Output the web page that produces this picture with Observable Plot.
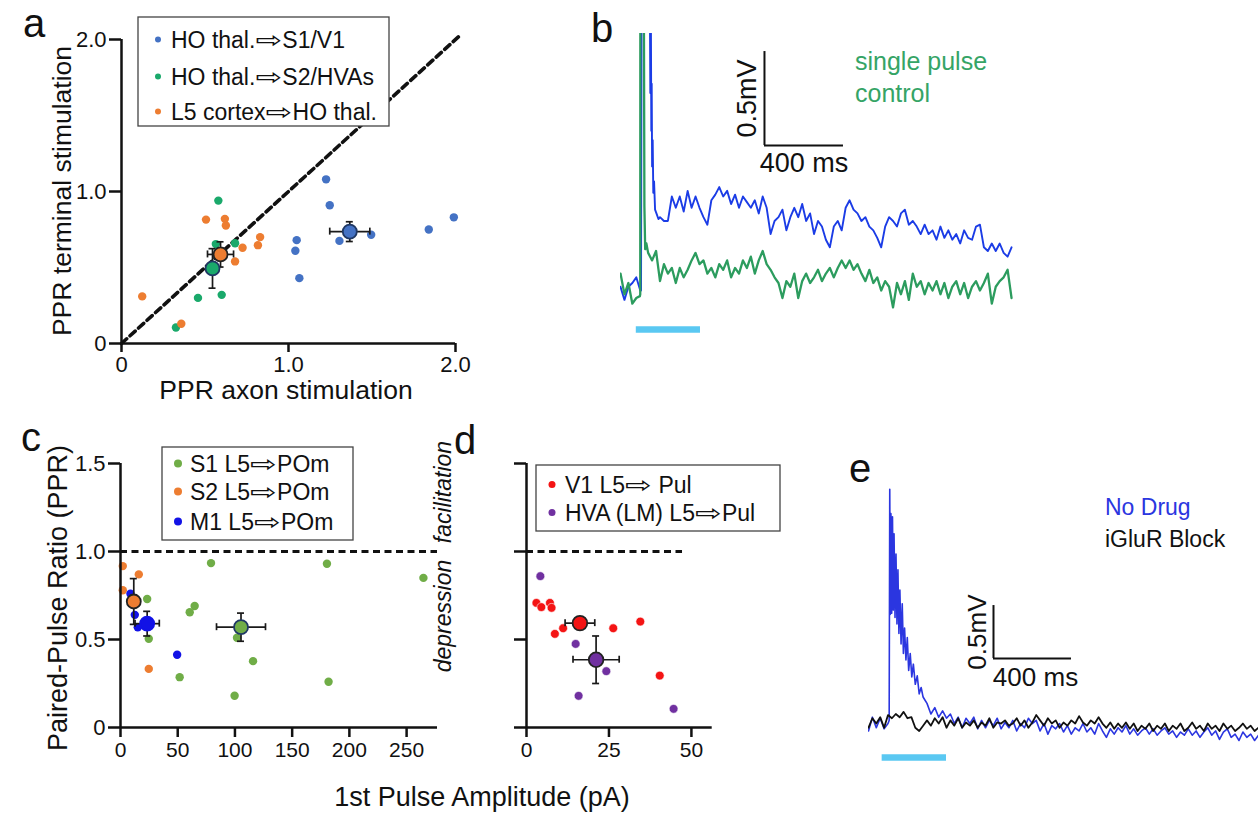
<!DOCTYPE html>
<html><head><meta charset="utf-8">
<script src="https://cdn.jsdelivr.net/npm/d3@7"></script>
<script src="https://cdn.jsdelivr.net/npm/@observablehq/plot@0.6"></script>
<style>
body{margin:0;background:#fff;}
#fig{position:relative;width:1258px;height:814px;overflow:hidden;background:#fff;}
#fig svg{position:absolute;}
</style></head>
<body><div id="fig"></div>
<script>
const FONT = "Arial, 'Liberation Sans', Helvetica, sans-serif";

// ---------- Panel a data ----------
const aGroups = ["HO thal.⇨S1/V1", "HO thal.⇨S2/HVAs", "L5 cortex⇨HO thal."];
const aBlueX = [1.225, 1.247, 1.99, 1.84, 1.495, 1.305, 1.049, 1.041, 1.065];
const aBlueY = [1.08, 0.91, 0.83, 0.75, 0.715, 0.675, 0.68, 0.61, 0.43];
const aGreenX = [0.58, 0.565, 0.68, 0.458, 0.60, 0.326];
const aGreenY = [0.94, 0.654, 0.66, 0.30, 0.32, 0.105];
const aOrangeX = [0.506, 0.619, 0.625, 0.83, 0.817, 0.725, 0.68, 0.124, 0.358];
const aOrangeY = [0.815, 0.82, 0.776, 0.70, 0.647, 0.63, 0.54, 0.31, 0.13];
const aMeanX = [1.367, 0.545, 0.593];
const aMeanY = [0.736, 0.494, 0.586];
const aErrX = [0.12, 0, 0.078];
const aErrY = [0.065, 0.13, 0.083];
const aTicks = [0, 1, 2];
const aDiag = [0, 2.03];

// ---------- Panel b data (mV vs ms) ----------
const bBlueV = [
  0.02,-0.05,0.02,0.04,0.07,0.0,null,null,null,null,
  0.39,0.37,0.37,0.50,0.44,0.50,0.42,0.53,0.44,0.50,
  0.44,0.39,0.35,0.48,0.51,0.55,0.50,0.53,0.46,0.51,
  0.44,0.50,0.47,0.44,0.48,0.41,0.50,0.44,0.30,0.37,
  0.39,0.43,0.32,0.39,0.44,0.39,0.46,0.37,0.41,0.30,
  0.37,0.34,0.27,0.23,0.34,0.37,0.32,0.44,0.48,0.43,
  0.41,0.37,0.39,0.34,0.32,0.28,0.23,0.34,0.39,0.37,
  0.34,0.41,0.43,0.35,0.37,0.34,0.30,0.35,0.30,0.32,
  0.27,0.34,0.28,0.32,0.27,0.30,0.25,0.32,0.28,0.27,
  0.34,0.35,0.23,0.21,0.25,0.21,0.25,0.20,0.18,0.23];
const bBlueSpike = [[104,0.0],[107,1.7],[148,1.7],[151,1.05],[153,1.7],[156,0.85],[158,1.1],[160,0.66],[163,0.8],[166,0.52],[170,0.58],[175,0.43],[182,0.41],[192,0.38]];
const bGreenV = [
  0.09,-0.02,0.04,-0.07,-0.04,-0.02,null,0.20,0.16,0.21,
  0.05,0.14,0.09,0.12,0.04,0.12,0.07,0.11,0.16,0.20,
  0.14,0.16,0.09,0.12,0.07,0.14,0.11,0.16,0.07,0.12,
  0.09,0.16,0.12,0.18,0.09,0.16,0.21,0.14,0.11,0.07,
  0.04,-0.04,0.05,0.02,0.09,-0.04,0.05,0.09,0.04,0.07,
  0.11,0.05,0.09,0.12,0.07,0.12,0.16,0.12,0.16,0.11,
  0.14,0.09,0.05,0.11,0.04,0.07,0.0,0.05,0.02,-0.09,
  0.04,-0.02,0.05,-0.05,0.09,0.02,0.05,-0.02,0.04,0.0,
  0.05,-0.02,0.04,-0.04,0.02,0.05,-0.02,0.04,-0.04,0.02,
  0.05,0.0,0.04,0.09,-0.07,0.02,0.05,0.07,0.11,-0.04];
const bGreenSpike = [[98,-0.03],[100.5,1.7],[118,1.7],[121,0.45],[125,0.22],[131,0.25]];
const bStimT = [80, 405];
const bStimV = [-0.207];
const bScaleT = [729, 1129];
const bScaleV = [0.771, 1.271];

// ---------- Panel c data ----------
const cGroups = ["S1 L5⇨POm", "S2 L5⇨POm", "M1 L5⇨POm"];
const cS1X = [79.1, 23.3, 64.8, 60.5, 24.7, 101.8, 115.8, 51.7, 99.7, 180.4, 264.7, 181.8];
const cS1Y = [0.934, 0.73, 0.69, 0.655, 0.504, 0.51, 0.377, 0.286, 0.18, 0.93, 0.85, 0.26];
const cS2X = [2, 16, 2, 24.7];
const cS2Y = [0.917, 0.87, 0.78, 0.333];
const cM1X = [8.7, 12.5, 15.1, 49.5];
const cM1Y = [0.76, 0.64, 0.57, 0.413];
const cMeanX = [105.3, 11.6, 23.3];
const cMeanY = [0.57, 0.716, 0.59];
const cErrX = [21.4, 0, 10.6];
const cErrY = [0.08, 0.13, 0.07];
const cXTicks = [0, 50, 100, 150, 200, 250];
const cYTicks = [0, 0.5, 1, 1.5];
const cRefX = [0, 277];

// ---------- Panel d data ----------
const dGroups = ["V1 L5⇨ Pul", "HVA (LM) L5⇨Pul"];
const dRedX = [3.0, 4.5, 7.1, 7.6, 11.1, 8.6, 26.3, 34.5, 40.4];
const dRedY = [0.708, 0.684, 0.708, 0.68, 0.564, 0.532, 0.564, 0.602, 0.295];
const dPurX = [4.2, 14.9, 24.2, 15.8, 44.6];
const dPurY = [0.86, 0.475, 0.32, 0.18, 0.106];
const dMeanX = [16.2, 21.1];
const dMeanY = [0.593, 0.385];
const dErrX = [4.5, 7.0];
const dErrY = [0, 0.135];
const dXTicks = [0, 25, 50];
const dRefX = [0, 47.3];

// ---------- Panel e data ----------
const eBlueV = [
  -0.07,0.06,-0.04,0.05,-0.05,0.0,null,null,null,null,
  null,null,null,null,null,0.19,0.09,0.15,0.06,0.12,
  0.05,0.09,0.0,0.06,-0.04,0.05,0.0,0.06,-0.05,0.03,
  -0.04,0.03,-0.02,0.05,-0.05,0.01,-0.04,0.03,-0.07,0.0,
  -0.04,0.05,0.0,0.03,-0.07,0.0,-0.10,-0.02,-0.05,0.0,
  -0.08,-0.02,-0.10,-0.04,-0.07,0.0,-0.08,-0.04,-0.10,0.0,
  -0.07,-0.13,-0.05,-0.10,-0.04,-0.08,-0.02,-0.10,-0.05,-0.11,
  -0.07,-0.04,-0.10,-0.05,-0.11,-0.07,-0.04,-0.10,-0.07,-0.13,
  -0.08,-0.11,-0.05,-0.11,-0.07,-0.13,-0.08,-0.04,-0.11,-0.07,
  -0.15,-0.08,-0.05,-0.13,-0.10,-0.16,-0.08,-0.13,-0.10,-0.16,
  -0.11];
const eBlueSpike = [[106,0.03],[109,2.21],[112,1.03],[115,1.98],[119,1.04],[123,1.95],[127,1.07],[131,1.79],[136,1.0],[141,1.6],[146,0.94],[151,1.45],[156,0.85],[161,1.26],[167,0.75],[173,1.13],[179,0.66],[185,0.9],[192,0.6],[199,0.81],[206,0.5],[214,0.66],[222,0.44],[230,0.56],[240,0.37],[250,0.45],[260,0.28],[270,0.34],[280,0.25],[290,0.22]];
const eBlackV = [
  -0.04,0.05,0.0,0.06,-0.04,0.08,0.05,0.09,0.06,0.11,
  0.05,0.06,-0.04,-0.07,-0.02,0.03,-0.02,0.05,0.0,0.06,
  -0.04,0.03,-0.02,0.05,-0.04,0.01,-0.02,0.03,-0.04,0.01,
  -0.02,0.05,-0.04,0.01,0.0,0.03,-0.02,0.0,0.05,-0.02,
  0.03,-0.04,0.01,0.08,0.03,-0.02,0.05,0.0,0.03,-0.04,
  0.01,-0.02,0.03,0.0,0.07,0.01,-0.02,0.03,0.0,0.06,
  0.0,-0.04,0.01,-0.05,0.0,-0.04,0.01,-0.05,0.0,-0.07,
  -0.02,-0.05,0.0,-0.07,-0.02,-0.05,0.0,-0.07,-0.02,-0.05,
  0.0,-0.07,-0.04,0.01,-0.05,-0.02,-0.07,0.0,-0.05,-0.02,
  -0.07,0.0,-0.05,-0.02,-0.07,-0.04,0.0,-0.05,-0.02,-0.07,
  -0.04];
const eStimT = [70, 400];
const eStimV = [-0.32];
const eScaleT = [641, 1041];
const eScaleV = [0.613, 1.113];
const traceDt = 20;

// ---------- helpers ----------
const fig = document.getElementById("fig");
function place(svg, left, top) {
  svg.style.left = left + "px"; svg.style.top = top + "px";
  fig.append(svg);
}
const baseStyle = {background: "transparent", fontFamily: FONT, overflow: "visible", color: "#111"};
const pts = (xs, ys, g) => xs.map((x, i) => ({x, y: ys[i], g}));
const means = (mx, my, ex, ey) => mx.map((x, i) => ({x, y: my[i], ex: ex[i], ey: ey[i], g: i}));
function errMarks(ms) {
  const h = ms.filter(d => d.ex > 0), v = ms.filter(d => d.ey > 0);
  const hc = h.flatMap(d => [{x: d.x - d.ex, y: d.y}, {x: d.x + d.ex, y: d.y}]);
  const vc = v.flatMap(d => [{x: d.x, y: d.y - d.ey}, {x: d.x, y: d.y + d.ey}]);
  const st = {stroke: "#1a1a1a", strokeWidth: 1.7};
  return [
    Plot.link(h, {x1: d => d.x - d.ex, x2: d => d.x + d.ex, y1: "y", y2: "y", ...st}),
    Plot.link(v, {x1: "x", x2: "x", y1: d => d.y - d.ey, y2: d => d.y + d.ey, ...st}),
    Plot.ruleX(hc, {x: "x", y1: "y", y2: "y", insetTop: -3.5, insetBottom: -3.5, ...st}),
    Plot.ruleY(vc, {y: "y", x1: "x", x2: "x", insetLeft: -3.5, insetRight: -3.5, ...st})
  ];
}
function traceData(vals, spike) {
  const out = vals.map((v, i) => ({t: i * traceDt, v})).filter(d => d.v !== null);
  spike.forEach(([t, v]) => out.push({t, v}));
  return out.sort((p, q) => p.t - q.t);
}
const fmt1 = d => d === 0 ? "0" : d.toFixed(1);

// ---------- Panel a ----------
const aColors = ["#4472c4", "#1aa96b", "#ed7d31"];
const aStroke = ["#1f3864", "#1f3864", "#222"];
const aPts = [...pts(aBlueX, aBlueY, 0), ...pts(aGreenX, aGreenY, 1), ...pts(aOrangeX, aOrangeY, 2)];
const aM = means(aMeanX, aMeanY, aErrX, aErrY);
const aMOrder = [aM[0], aM[2], aM[1]];
place(Plot.plot({
  width: 480, height: 420, marginLeft: 121, marginRight: 25, marginTop: 39, marginBottom: 77,
  x: {domain: [0, 2]}, y: {domain: [0, 2]}, color: {type: "identity"},
  style: baseStyle,
  marks: [
    Plot.line(aDiag.map(v => ({v})), {x: "v", y: "v", stroke: "#111", strokeWidth: 3.6, strokeDasharray: "7,4.5"}),
    Plot.dot(aPts, {x: "x", y: "y", r: 4.2, fill: d => aColors[d.g]}),
    ...errMarks(aMOrder),
    Plot.dot(aMOrder, {x: "x", y: "y", r: 7, fill: d => aColors[d.g], stroke: d => aStroke[d.g], strokeWidth: 1.8}),
    Plot.ruleX([0], {y1: 0, y2: 2, strokeWidth: 2.5}),
    Plot.ruleY([0], {x1: 0, x2: 2, strokeWidth: 2.5}),
    Plot.axisY({ticks: aTicks, tickFormat: fmt1, tickSize: 12, tickPadding: 3, strokeWidth: 2.5, fontSize: 22, label: null}),
    Plot.axisX({ticks: aTicks, tickFormat: fmt1, tickSize: 9, tickPadding: 4, strokeWidth: 2.5, fontSize: 22, label: null})
  ]
}), 0, 0);

// ---------- Panel b ----------
place(Plot.plot({
  width: 420, height: 320, marginLeft: 20, marginRight: 5, marginTop: 13, marginBottom: 3,
  x: {domain: [0, 2000], axis: null}, y: {domain: [-0.25, 1.367], axis: null},
  style: baseStyle,
  marks: [
    Plot.ruleY(bStimV, {x1: bStimT[0], x2: bStimT[1], stroke: "#5ac8f2", strokeWidth: 6.5}),
    Plot.line(traceData(bBlueV, bBlueSpike), {x: "t", y: "v", stroke: "#1b3ce6", strokeWidth: 1.9, clip: true}),
    Plot.line(traceData(bGreenV, bGreenSpike), {x: "t", y: "v", stroke: "#2c9c5e", strokeWidth: 2.3, clip: true}),
    Plot.ruleX([bScaleT[0]], {y1: bScaleV[0], y2: bScaleV[1], stroke: "#111", strokeWidth: 2}),
    Plot.ruleY([bScaleV[0]], {x1: bScaleT[0], x2: bScaleT[1], stroke: "#111", strokeWidth: 2}),
    Plot.text(["0.5mV"], {x: bScaleT[0], y: (bScaleV[0] + bScaleV[1]) / 2, dx: -17, rotate: -90, fontSize: 27, fill: "#111"}),
    Plot.text(["400 ms"], {x: (bScaleT[0] + bScaleT[1]) / 2, y: bScaleV[0], dy: 18, fontSize: 27, fill: "#111"})
  ]
}), 600, 20);

// ---------- Panel c ----------
const cColors = ["#70ad47", "#ed7d31", "#1212e6"];
const cStroke = ["#1f3864", "#222", "#1212e6"];
const cPts = [...pts(cS1X, cS1Y, 0), ...pts(cS2X, cS2Y, 1), ...pts(cM1X, cM1Y, 2)];
const cM = means(cMeanX, cMeanY, cErrX, cErrY);
place(Plot.plot({
  width: 460, height: 384, marginLeft: 120, marginRight: 23, marginTop: 33, marginBottom: 87,
  x: {domain: [0, 277]}, y: {domain: [0, 1.5]}, color: {type: "identity"},
  style: baseStyle,
  marks: [
    Plot.ruleY([1], {x1: cRefX[0], x2: cRefX[1], stroke: "#111", strokeWidth: 3, strokeDasharray: "7,4.5"}),
    Plot.dot(cPts, {x: "x", y: "y", r: 4.2, fill: d => cColors[d.g]}),
    ...errMarks(cM),
    Plot.dot(cM, {x: "x", y: "y", r: 7, fill: d => cColors[d.g], stroke: d => cStroke[d.g], strokeWidth: 1.8}),
    Plot.ruleX([0], {y1: 0, y2: 1.5, strokeWidth: 2.5}),
    Plot.ruleY([0], {x1: 0, x2: 277, strokeWidth: 2.5}),
    Plot.axisY({ticks: cYTicks, tickFormat: fmt1, tickSize: 12, tickPadding: 3, strokeWidth: 2.5, fontSize: 22, label: null}),
    Plot.axisX({ticks: cXTicks, tickFormat: d => String(d), tickSize: 10, tickPadding: 5, strokeWidth: 2.5, fontSize: 21, label: null})
  ]
}), 0, 430);

// ---------- Panel d ----------
const dColors = ["#f41414", "#7030a0"];
const dStroke = ["#222", "#222"];
const dPts = [...pts(dRedX, dRedY, 0), ...pts(dPurX, dPurY, 1)];
const dM = means(dMeanX, dMeanY, dErrX, dErrY);
place(Plot.plot({
  width: 300, height: 384, marginLeft: 66, marginRight: 48.3, marginTop: 33, marginBottom: 87,
  x: {domain: [0, 56.3]}, y: {domain: [0, 1.5]}, color: {type: "identity"},
  style: baseStyle,
  marks: [
    Plot.ruleY([1], {x1: dRefX[0], x2: dRefX[1], stroke: "#111", strokeWidth: 3, strokeDasharray: "7,4.5"}),
    Plot.dot(dPts, {x: "x", y: "y", r: 4.4, fill: d => dColors[d.g], stroke: "white", strokeWidth: 0.6}),
    ...errMarks(dM),
    Plot.dot(dM, {x: "x", y: "y", r: 7.3, fill: d => dColors[d.g], stroke: d => dStroke[d.g], strokeWidth: 1.8}),
    Plot.ruleX([0], {y1: 0, y2: 1.5, strokeWidth: 2.5}),
    Plot.ruleY([0], {x1: 0, x2: 56.3, strokeWidth: 2.5}),
    Plot.axisY({ticks: cYTicks, tickFormat: () => "", tickSize: 12, strokeWidth: 2.5, label: null}),
    Plot.axisX({ticks: dXTicks, tickFormat: d => String(d), tickSize: 10, tickPadding: 5, strokeWidth: 2.5, fontSize: 21, label: null})
  ]
}), 460, 430);

// ---------- Panel e ----------
place(Plot.plot({
  width: 408, height: 300, marginLeft: 18, marginRight: 0, marginTop: 0, marginBottom: 0,
  x: {domain: [0, 2000], axis: null}, y: {domain: [-0.443, 2.387], axis: null},
  style: baseStyle,
  marks: [
    Plot.ruleY(eStimV, {x1: eStimT[0], x2: eStimT[1], stroke: "#5ac8f2", strokeWidth: 6.5}),
    Plot.line(traceData(eBlueV, eBlueSpike), {x: "t", y: "v", stroke: "#2b36e0", strokeWidth: 1.6, clip: true}),
    Plot.line(traceData(eBlackV, []), {x: "t", y: "v", stroke: "#111", strokeWidth: 1.8, clip: true}),
    Plot.ruleX([eScaleT[0]], {y1: eScaleV[0], y2: eScaleV[1], stroke: "#111", strokeWidth: 2}),
    Plot.ruleY([eScaleV[0]], {x1: eScaleT[0], x2: eScaleT[1], stroke: "#111", strokeWidth: 2}),
    Plot.text(["0.5mV"], {x: eScaleT[0], y: (eScaleV[0] + eScaleV[1]) / 2, dx: -16, rotate: -90, fontSize: 26, fill: "#111"}),
    Plot.text(["400 ms"], {x: (eScaleT[0] + eScaleT[1]) / 2, y: eScaleV[0], dy: 19, dx: 3, fontSize: 26, fill: "#111"})
  ]
}), 850, 470);

// ---------- Overlay: letters, titles, legends ----------
const ov = d3.select(fig).append("svg").attr("width", 1258).attr("height", 814)
  .style("left", "0px").style("top", "0px").style("pointer-events", "none")
  .attr("font-family", FONT);
function txt(x, y, s, o = {}) {
  const t = ov.append("text").attr("x", x).attr("y", y).text(s)
    .attr("font-size", o.size || 22).attr("fill", o.fill || "#111")
    .attr("text-anchor", o.anchor || "start")
    .attr("dominant-baseline", o.baseline || "alphabetic");
  if (o.rotate) t.attr("transform", `rotate(${o.rotate},${x},${y})`);
  if (o.italic) t.attr("font-style", "italic");
  return t;
}
// panel letters
[["a", 23, 37], ["b", 591, 42], ["c", 21, 451], ["d", 454, 454], ["e", 849, 482]]
  .forEach(([s, x, y]) => txt(x, y, s, {size: 40}));
// axis titles
txt(62, 191, "PPR terminal stimulation", {size: 26.5, anchor: "middle", baseline: "central", rotate: -90});
txt(286, 390, "PPR axon stimulation", {size: 26.5, anchor: "middle", baseline: "central"});
txt(58, 598, "Paired-Pulse Ratio (PPR)", {size: 27, anchor: "middle", baseline: "central", rotate: -90});
txt(482, 797, "1st Pulse Amplitude (pA)", {size: 27, anchor: "middle", baseline: "central"});
// facilitation / depression
txt(443, 492, "facilitation", {size: 23, anchor: "middle", baseline: "central", rotate: -90, italic: true});
txt(443, 616, "depression", {size: 23, anchor: "middle", baseline: "central", rotate: -90, italic: true});
// trace annotations
txt(855, 70, "single pulse", {size: 25, fill: "#35a466"});
txt(855, 102, "control", {size: 25, fill: "#35a466"});
txt(1105, 515, "No Drug", {size: 23, fill: "#2b36e0"});
txt(1105, 547, "iGluR Block", {size: 23, fill: "#111"});
// legends: text, then a horizontally widened hollow arrow, then text
function legend(box, labels, colors, baselines, dotX, textX, size, r) {
  ov.append("rect").attr("x", box[0]).attr("y", box[1]).attr("width", box[2]).attr("height", box[3])
    .attr("fill", "white").attr("stroke", "#444").attr("stroke-width", 1.3);
  const stretch = 1.4;
  labels.forEach((lab, i) => {
    const yb = baselines[i];
    ov.append("circle").attr("cx", dotX).attr("cy", yb - size * 0.37).attr("r", r).attr("fill", colors[i]);
    const parts = lab.split("⇨");
    const t1 = ov.append("text").attr("x", textX).attr("y", yb).attr("font-size", size).attr("fill", "#111")
      .style("white-space", "pre").text(parts[0]);
    if (parts.length > 1) {
      const w1 = t1.node().getComputedTextLength();
      const ax = textX + w1;
      const ar = ov.append("text").attr("x", 0).attr("y", 0).attr("font-size", size)
        .attr("font-family", "'DejaVu Sans', sans-serif").attr("fill", "#111")
        .attr("transform", `translate(${ax},${yb + size * 0.02}) scale(${stretch},1)`).text("⇨");
      const aw = ar.node().getComputedTextLength() * stretch;
      ov.append("text").attr("x", ax + aw).attr("y", yb).attr("font-size", size).attr("fill", "#111")
        .style("white-space", "pre").text(parts[1]);
    }
  });
}
legend([138, 17, 251, 109], aGroups, aColors, [48, 85, 120], 158, 171, 23, 3);
legend([162, 447, 191, 93], cGroups, cColors, [472, 500, 530], 178, 190, 23, 4);
legend([536, 465, 244, 66], dGroups, dColors, [493, 521], 552, 565, 23, 3.5);
</script>
</body></html>
